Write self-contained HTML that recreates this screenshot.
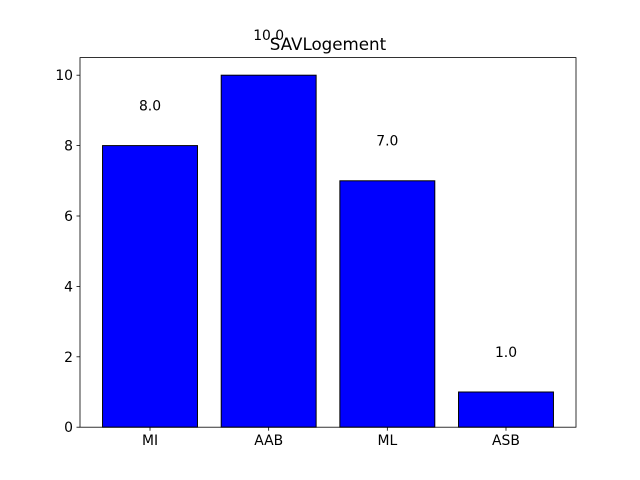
<!DOCTYPE html>
<html><head><meta charset="utf-8"><style>body{margin:0;background:#fff}svg{display:block;font-family:"DejaVu Sans","Liberation Sans",sans-serif}</style></head>
<body>
<svg id="c" width="640" height="480"></svg>
<script>
const categories = ["MI","AAB","ML","ASB"];
const values = [8,10,7,1];
const yTicks = [0,2,4,6,8,10];
const NS="http://www.w3.org/2000/svg";
const svg=document.getElementById('c');
const L=80,R=576,T=57.6,B=427.2;
const yMax=10.5, xMin=-0.59, xMax=3.59;
const ys=v=>B-v/yMax*(B-T);
const xs=v=>L+(v-xMin)/(xMax-xMin)*(R-L);
function mk(t,a,txt){const e=document.createElementNS(NS,t);for(const k in a)e.setAttribute(k,a[k]);if(txt!=null)e.textContent=txt;svg.appendChild(e);return e;}
const title=mk('text',{x:328,y:50,'text-anchor':'middle','font-size':'16.7'},'SAVLogement');


categories.forEach((c,i)=>{
  const x0=xs(i-0.4),x1=xs(i+0.4);
  const r=mk('rect',{x:x0,y:ys(values[i]),width:x1-x0,height:B-ys(values[i]),fill:'#0000ff',stroke:'#000','stroke-width':1});
  
  
  const lb=mk('text',{x:xs(i),y:ys(values[i]+1),'text-anchor':'middle','font-size':'13.9'},values[i].toFixed(1));
  
  
  mk('line',{x1:xs(i),x2:xs(i),y1:B,y2:B+3.5,stroke:'#000','stroke-width':0.8});
  const tl=mk('text',{x:xs(i),y:B+18,'text-anchor':'middle','font-size':'13.9'},c);
  
  
});
yTicks.forEach(v=>{
  mk('line',{x1:L-3.5,x2:L,y1:ys(v),y2:ys(v),stroke:'#000','stroke-width':0.8});
  const t=mk('text',{x:L-7,y:ys(v)+5,'text-anchor':'end','font-size':'13.9'},String(v));
  
  
});
const f=mk('rect',{x:L,y:T,width:R-L,height:B-T,fill:'none',stroke:'#000','stroke-width':0.8});


</script>
</body></html>
